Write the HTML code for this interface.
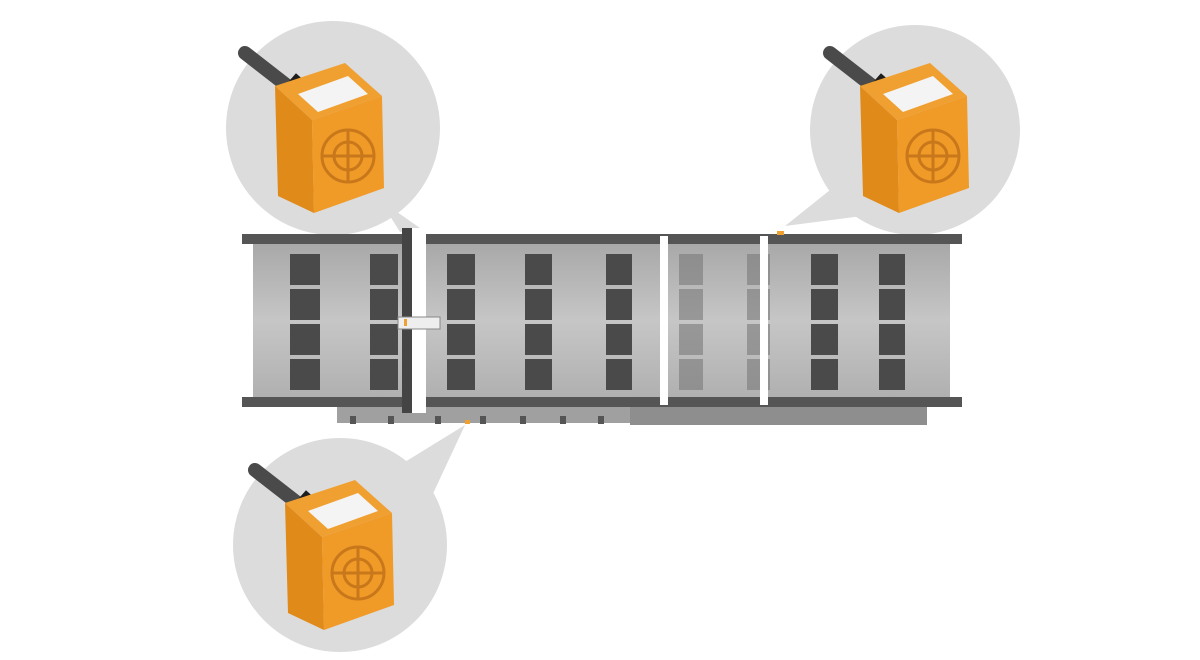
<!DOCTYPE html>
<html><head><meta charset="utf-8"><style>html,body{margin:0;padding:0;background:#fff}svg{display:block}</style></head>
<body>
<svg width="1200" height="660" viewBox="0 0 1200 660" xmlns="http://www.w3.org/2000/svg">
<defs>
<linearGradient id="belt" x1="0" y1="0" x2="0" y2="1"><stop offset="0" stop-color="#a8a8a8"/><stop offset="0.5" stop-color="#c6c6c6"/><stop offset="1" stop-color="#b0b0b0"/></linearGradient>
<g id="sensor">
  <path d="M-75,-55 L-30,-20" stroke="#4a4a4a" stroke-width="14" stroke-linecap="round"/>
  <path d="M-30,-28 L-12,-12" stroke="#1e1e1e" stroke-width="18"/>
  <polygon points="-45,-22 25,-45 62,-12 -8,12" fill="#f0a030"/>
  <polygon points="-45,-22 -8,12 -6,105 -42,88" fill="#e08a1a"/>
  <polygon points="-8,12 62,-12 64,80 -6,105" fill="#f09a28"/>
  <polygon points="-22,-14 28,-32 48,-14 -2,4" fill="#f4f4f4"/>
  <circle cx="28" cy="48" r="26" fill="none" stroke="#c8781a" stroke-width="3"/>
  <circle cx="28" cy="48" r="14" fill="none" stroke="#c8781a" stroke-width="3"/>
  <path d="M2,48 H54 M28,22 V74" stroke="#c8781a" stroke-width="3"/>
</g>
</defs>
<polygon points="380,200 420,228 400,232" fill="#dcdcdc"/>
<circle cx="333" cy="128" r="107" fill="#dcdcdc"/>
<polygon points="830,190 785,226 870,215" fill="#dcdcdc"/>
<circle cx="915" cy="130" r="105" fill="#dcdcdc"/>
<polygon points="400,465 465,425 430,500" fill="#dcdcdc"/>
<circle cx="340" cy="545" r="107" fill="#dcdcdc"/>
<use href="#sensor" transform="translate(320,108)"/>
<use href="#sensor" transform="translate(905,108)"/>
<use href="#sensor" transform="translate(330,525)"/>
<rect x="337" y="405" width="590" height="18" fill="#a0a0a0"/>
<rect x="630" y="405" width="297" height="20" fill="#8e8e8e"/>
<g fill="#555">
<rect x="350" y="416" width="6" height="8"/><rect x="388" y="416" width="6" height="8"/><rect x="435" y="416" width="6" height="8"/><rect x="480" y="416" width="6" height="8"/><rect x="520" y="416" width="6" height="8"/><rect x="560" y="416" width="6" height="8"/><rect x="598" y="416" width="6" height="8"/>
</g>
<rect x="465" y="420" width="5" height="4" fill="#f0a030"/>
<rect x="253" y="243" width="697" height="155" fill="url(#belt)"/>
<rect x="242" y="234" width="720" height="10" fill="#555"/>
<rect x="242" y="397" width="720" height="10" fill="#555"/>
<rect x="777" y="231" width="7" height="4" fill="#f0a030"/>
<g fill="#4a4a4a">
<rect x="290" y="254" width="30" height="31"/><rect x="290" y="289" width="30" height="31"/><rect x="290" y="324" width="30" height="31"/><rect x="290" y="359" width="30" height="31"/>
<rect x="370" y="254" width="28" height="31"/><rect x="370" y="289" width="28" height="31"/><rect x="370" y="324" width="28" height="31"/><rect x="370" y="359" width="28" height="31"/>
<rect x="447" y="254" width="28" height="31"/><rect x="447" y="289" width="28" height="31"/><rect x="447" y="324" width="28" height="31"/><rect x="447" y="359" width="28" height="31"/>
<rect x="525" y="254" width="27" height="31"/><rect x="525" y="289" width="27" height="31"/><rect x="525" y="324" width="27" height="31"/><rect x="525" y="359" width="27" height="31"/>
<rect x="606" y="254" width="26" height="31"/><rect x="606" y="289" width="26" height="31"/><rect x="606" y="324" width="26" height="31"/><rect x="606" y="359" width="26" height="31"/>
<rect x="811" y="254" width="27" height="31"/><rect x="811" y="289" width="27" height="31"/><rect x="811" y="324" width="27" height="31"/><rect x="811" y="359" width="27" height="31"/>
<rect x="879" y="254" width="26" height="31"/><rect x="879" y="289" width="26" height="31"/><rect x="879" y="324" width="26" height="31"/><rect x="879" y="359" width="26" height="31"/>
</g>
<g fill="#7a7a7a" opacity="0.6">
<rect x="679" y="254" width="24" height="31"/><rect x="679" y="289" width="24" height="31"/><rect x="679" y="324" width="24" height="31"/><rect x="679" y="359" width="24" height="31"/>
<rect x="747" y="254" width="23" height="31"/><rect x="747" y="289" width="23" height="31"/><rect x="747" y="324" width="23" height="31"/><rect x="747" y="359" width="23" height="31"/>
</g>
<rect x="660" y="236" width="8" height="169" fill="#fff"/>
<rect x="760" y="236" width="8" height="169" fill="#fff"/>
<rect x="402" y="228" width="10" height="185" fill="#444"/>
<rect x="412" y="228" width="14" height="185" fill="#fff"/>
<rect x="398" y="317" width="42" height="12" fill="#eee" stroke="#888"/>
<rect x="404" y="319" width="3" height="7" fill="#f0a030"/>
</svg>
</body></html>
